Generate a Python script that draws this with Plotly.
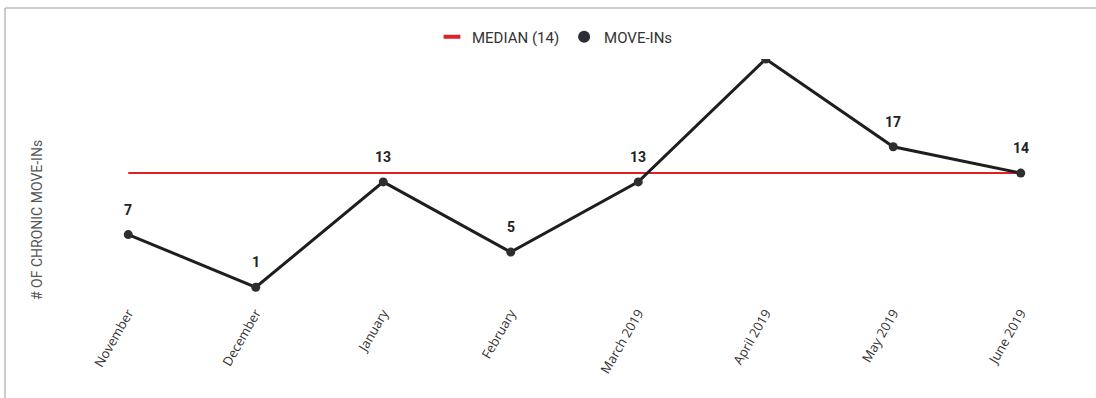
import plotly.graph_objects as go

months = ["November", "December", "January", "February", "March 2019", "April 2019", "May 2019", "June 2019"]
move_ins = [7, 1, 13, 5, 13, 27, 17, 14]
median_value = 14
y_max = 27

# layout geometry (pixels)
W, H = 1096, 398
L, R, T, B = 90, 37, 59, 102
pw, ph = W - L - R, H - T - B

def px_x(x):
    return (x - L) / pw

def px_y(y):
    return (H - B - y) / ph

RED = "#dc2229"
DARK = "#1e1e1e"

fig = go.Figure()

fig.add_trace(go.Scatter(
    x=months, y=[median_value] * len(months), mode="lines",
    line=dict(color=RED, width=2), showlegend=False, hoverinfo="skip"))

fig.add_trace(go.Scatter(
    x=months, y=move_ins, mode="lines+markers", name="MOVE-INs",
    line=dict(color=DARK, width=3),
    marker=dict(color="#2e2e2e", size=9),
    showlegend=False, cliponaxis=True))

# legend-only entries
fig.add_trace(go.Scatter(
    x=[None], y=[None], mode="markers", name=f"MEDIAN ({median_value})",
    marker=dict(symbol="line-ew-open", size=12, color=RED, line=dict(color=RED, width=4))))
fig.add_trace(go.Scatter(
    x=[None], y=[None], mode="markers", name="MOVE-INs",
    marker=dict(symbol="circle", size=12, color="#2b2f33")))

annotations = [dict(text="# OF CHRONIC MOVE-INs", xref="paper", yref="paper",
                    x=px_x(37), y=px_y(220), xanchor="center", yanchor="middle",
                    textangle=-90, showarrow=False,
                    font=dict(family="Roboto", size=14, color="#555555"))]
for m, v in zip(months, move_ins):
    if v < y_max:
        annotations.append(dict(x=m, y=v, xref="x", yref="y", text=str(v), showarrow=False,
                                yshift=25, font=dict(family="Roboto", size=14, color="#222222",
                                                     weight="bold")))

fig.update_layout(
    width=W, height=H,
    margin=dict(l=L, r=R, t=T, b=B),
    paper_bgcolor="white", plot_bgcolor="white",
    showlegend=True,
    legend=dict(orientation="h", x=px_x(555), y=px_y(37), xanchor="center", yanchor="middle",
                font=dict(family="Roboto", size=15, color="#333333"), itemsizing="trace",
                itemwidth=30),
    xaxis=dict(type="category", range=[-0.3, 7.3], showgrid=False, zeroline=False, showline=False,
               ticks="", tickangle=-60, ticklabelstandoff=6,
               tickfont=dict(family="Open Sans", size=13, color="#333333")),
    yaxis=dict(range=[0, y_max], showgrid=False, zeroline=False, showline=False, showticklabels=False),
    shapes=[dict(type="rect", xref="paper", yref="paper",
                 x0=px_x(5), x1=px_x(1100), y0=px_y(402), y1=px_y(8),
                 line=dict(color="#999999", width=1), layer="below")],
    annotations=annotations,
)

fig.write_html("out.html")
